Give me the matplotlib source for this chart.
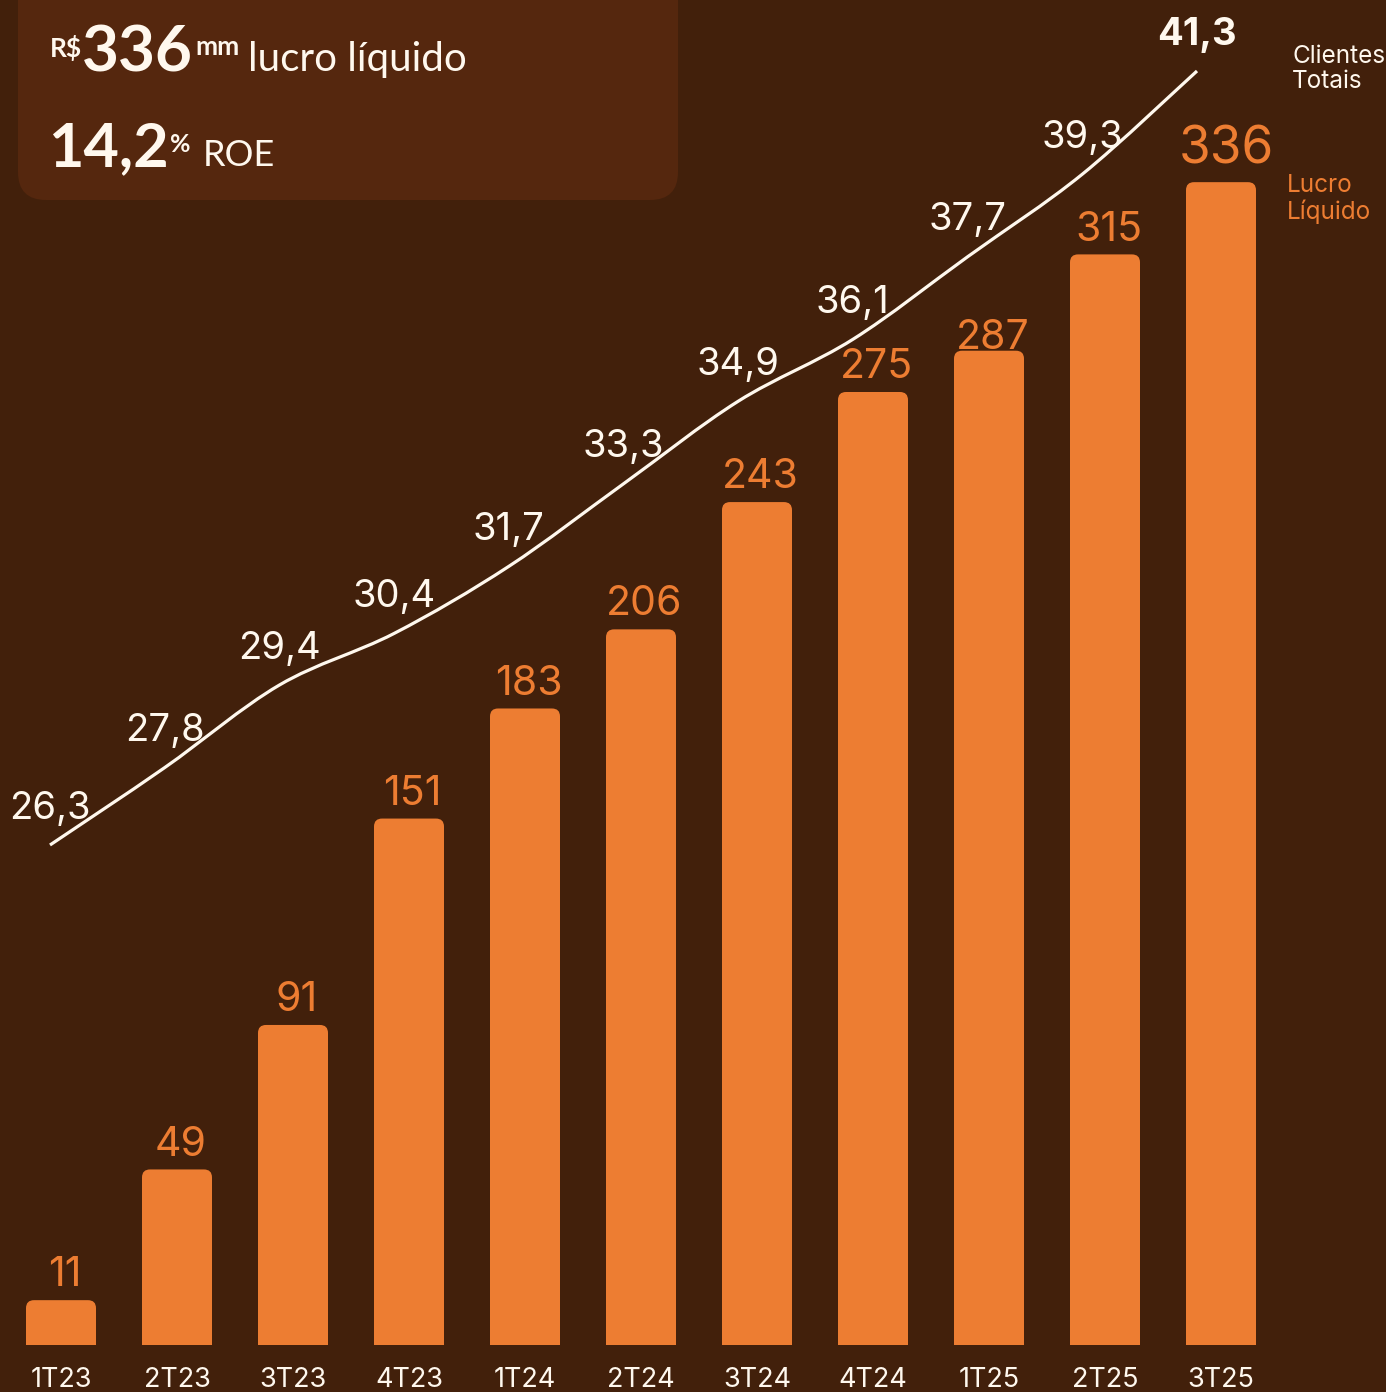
import matplotlib
matplotlib.use("Agg")
import matplotlib.pyplot as plt
from matplotlib.patches import FancyBboxPatch
from matplotlib.path import Path
from matplotlib.patches import PathPatch

# ---- data ----
quarters = ["1T23", "2T23", "3T23", "4T23", "1T24", "2T24", "3T24", "4T24", "1T25", "2T25", "3T25"]
lucro_liquido = [11, 49, 91, 151, 183, 206, 243, 275, 287, 315, 336]
clientes_totais = [26.3, 27.8, 29.4, 30.4, 31.7, 33.3, 34.9, 36.1, 37.7, 39.3, 41.3]
headline_lucro = "336"
headline_roe = "14,2"

# ---- style ----
BG = "#42200B"
BOX = "#55270E"
ORANGE = "#ED7D32"
CREAM = "#FFF8EE"
W, H = 1386, 1392

fig = plt.figure(figsize=(W / 100, H / 100), dpi=100, facecolor=BG)

# pixel-space overlay for the headline box
ax0 = fig.add_axes([0, 0, 1, 1])
ax0.set_xlim(0, W)
ax0.set_ylim(H, 0)
ax0.axis("off")
ax0.add_patch(FancyBboxPatch((18, -40), 660, 240,
                             boxstyle="round,pad=0,rounding_size=28",
                             fc=BOX, ec="none"))

renderer = fig.canvas.get_renderer()


def chain(x, y, s, **kw):
    t = ax0.text(x, y, s, ha="left", va="baseline", color=CREAM, **kw)
    bb = t.get_window_extent(renderer=renderer)
    return ax0.transData.inverted().transform((bb.x1, bb.y0))[0]


x = chain(50, 57, "R$", family="Lato", fontweight="bold", fontsize=19)
x = chain(x, 71, headline_lucro, family="Lato", fontweight="bold", fontsize=46)
x = chain(x + 2, 55, "mm", family="Lato", fontweight="bold", fontsize=19)
chain(x + 9, 71, "lucro líquido", family="Lato", fontsize=29)

x = chain(48, 166, headline_roe, family="Lato", fontweight="bold", fontsize=44)
x = chain(x + 1, 152, "%", family="Lato", fontweight="bold", fontsize=18)
chain(x + 12, 166, "ROE", family="Lato", fontsize=26)

# ---- bars ----
BAR_PX = 116.0          # distance between bar centres
Y_PX = 3.44             # pixels per unit of profit
X0_PX, Y0_PX = 61, 1338  # first bar centre / zero line
BOTTOM_PX = 1345

ax = fig.add_axes([0, (H - BOTTOM_PX) / H, 1, BOTTOM_PX / H])
ax.set_xlim(-X0_PX / BAR_PX, (W - X0_PX) / BAR_PX)
ax.set_ylim(-(BOTTOM_PX - Y0_PX) / Y_PX, Y0_PX / Y_PX)
ax.axis("off")
ax.patch.set_alpha(0)

bar_w = 70 / BAR_PX
r = 8 / BAR_PX
label_lift = {287: 1}   # this label sits almost on its bar
for i, v in enumerate(lucro_liquido):
    ax.add_patch(FancyBboxPatch((i - bar_w / 2, -8), bar_w, v + 8,
                                boxstyle=f"round,pad=0,rounding_size={r}",
                                mutation_aspect=BAR_PX / Y_PX,
                                fc=ORANGE, ec="none"))
    last = i == len(lucro_liquido) - 1
    lift = 13.5 if last else label_lift.get(v, 10)
    ax.annotate(str(v), xy=(i, v), xytext=(4 if last else 2.5, lift),
                textcoords="offset points", ha="center", va="baseline",
                fontsize=37 if last else 29.5, color=ORANGE, family="Inter")
    ax.annotate(quarters[i], xy=(i, 0), xycoords=("data", "axes fraction"),
                xytext=(0, -30), textcoords="offset points", ha="center",
                va="baseline", fontsize=19.5, color=CREAM, family="Inter")

# ---- customers line ----
L_PX = 114.7
LX0 = 50
LY_PX = (845 - 71) / (41.3 - 26.3)
ax2 = fig.add_axes([0, (H - BOTTOM_PX) / H, 1, BOTTOM_PX / H])
ax2.set_xlim(-LX0 / L_PX, (W - LX0) / L_PX)
ax2.set_ylim(26.3 - (BOTTOM_PX - 845) / LY_PX, 41.3 + 71 / LY_PX)
ax2.axis("off")
ax2.patch.set_alpha(0)

pts = list(enumerate(clientes_totais))
verts = [pts[0]]
codes = [Path.MOVETO]
n = len(pts)
for i in range(n - 1):
    p0 = pts[max(i - 1, 0)]
    p1 = pts[i]
    p2 = pts[i + 1]
    p3 = pts[min(i + 2, n - 1)]
    c1 = (p1[0] + (p2[0] - p0[0]) / 6, p1[1] + (p2[1] - p0[1]) / 6)
    c2 = (p2[0] - (p3[0] - p1[0]) / 6, p2[1] - (p3[1] - p1[1]) / 6)
    verts += [c1, c2, p2]
    codes += [Path.CURVE4] * 3
ax2.add_patch(PathPatch(Path(verts, codes), fc="none", ec=CREAM, lw=2.3,
                        capstyle="butt"))

for i, v in enumerate(clientes_totais):
    last = i == n - 1
    ax2.annotate(f"{v:.1f}".replace(".", ","), xy=(i, v), xytext=(0, 19),
                 textcoords="offset points", ha="center", va="baseline",
                 fontsize=27.5, color=CREAM, family="Inter",
                 fontweight="bold" if last else "normal")

# ---- series names ----
fig.text(1292 / W, 1 - 88 / H, "Clientes\nTotais", ha="left", va="baseline",
         fontsize=17.5, color=CREAM, family="Inter", linespacing=1.12)
fig.text(1287 / W, 1 - 219 / H, "Lucro\nLíquido", ha="left", va="baseline",
         fontsize=17.5, color=ORANGE, family="Inter", linespacing=1.12)

fig.savefig("out.png", dpi=100, facecolor=BG)
